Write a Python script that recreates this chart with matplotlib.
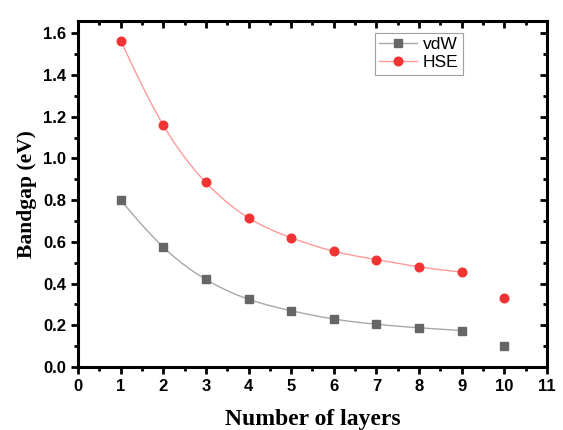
import numpy as np
import matplotlib
matplotlib.use("Agg")
import matplotlib.pyplot as plt
from matplotlib.ticker import MultipleLocator, FormatStrFormatter

layers = [1, 2, 3, 4, 5, 6, 7, 8, 9, 10]
vdw = [0.80, 0.575, 0.42, 0.325, 0.27, 0.23, 0.205, 0.188, 0.175, 0.10]
hse = [1.565, 1.16, 0.885, 0.715, 0.62, 0.555, 0.515, 0.48, 0.455, 0.33]
N_FIT = 9  # smooth line only goes through layers 1..9


def spline(x, y, n=300):
    # natural cubic spline, just for drawing the smooth connecting line
    x = np.asarray(x, float); y = np.asarray(y, float)
    h = np.diff(x)
    A = np.zeros((len(x), len(x))); b = np.zeros(len(x))
    A[0, 0] = A[-1, -1] = 1
    for i in range(1, len(x) - 1):
        A[i, i - 1:i + 2] = [h[i - 1], 2 * (h[i - 1] + h[i]), h[i]]
        b[i] = 6 * ((y[i + 1] - y[i]) / h[i] - (y[i] - y[i - 1]) / h[i - 1])
    m = np.linalg.solve(A, b)
    xs = np.linspace(x[0], x[-1], n)
    k = np.clip(np.searchsorted(x, xs) - 1, 0, len(x) - 2)
    t = xs - x[k]; hk = h[k]
    ys = (m[k] * (x[k + 1] - xs) ** 3 / (6 * hk) + m[k + 1] * t ** 3 / (6 * hk)
          + (y[k] / hk - m[k] * hk / 6) * (x[k + 1] - xs)
          + (y[k + 1] / hk - m[k + 1] * hk / 6) * t)
    return xs, ys


fig = plt.figure(figsize=(5.63, 4.30), dpi=100)
ax = fig.add_axes([0.1385, 0.1465, 0.833, 0.805])

for ys, lc, mc, mk, ms, lab in [(vdw, "#a8a8a8", "#666666", "s", 5.2, "vdW"),
                                 (hse, "#ff9a9a", "#f03434", "o", 6.2, "HSE")]:
    sx, sy = spline(layers[:N_FIT], ys[:N_FIT])
    ax.plot(sx, sy, color=lc, lw=1)
    ax.plot(layers, ys, ls="none", marker=mk, ms=ms, color=mc)
    ax.plot([], [], color=lc, lw=1, marker=mk, ms=ms, mfc=mc, mec=mc, label=lab)

ax.set_xlim(0, 11)
ax.set_ylim(0, 1.66)
ax.xaxis.set_major_locator(MultipleLocator(1))
ax.xaxis.set_minor_locator(MultipleLocator(0.5))
ax.yaxis.set_major_locator(MultipleLocator(0.2))
ax.yaxis.set_minor_locator(MultipleLocator(0.1))
ax.yaxis.set_major_formatter(FormatStrFormatter("%.1f"))
ax.tick_params(which="both", direction="out", width=2, labelsize=12)
ax.tick_params(which="major", length=5)
ax.tick_params(which="minor", length=3)
for lbl in ax.get_xticklabels() + ax.get_yticklabels():
    lbl.set_fontfamily("Liberation Sans"); lbl.set_fontweight("bold")
for s in ax.spines.values():
    s.set_linewidth(2.2)

# mirrored inward ticks on top/right like Origin
top = ax.secondary_xaxis("top")
right = ax.secondary_yaxis("right")
top.xaxis.set_major_locator(MultipleLocator(1)); top.xaxis.set_minor_locator(MultipleLocator(0.5))
right.yaxis.set_major_locator(MultipleLocator(0.2)); right.yaxis.set_minor_locator(MultipleLocator(0.1))
for sec in (top, right):
    sec.tick_params(which="both", direction="in", width=2, labelleft=False, labelright=False,
                    labeltop=False, labelbottom=False)
    sec.tick_params(which="major", length=5)
    sec.tick_params(which="minor", length=3)
    for s in sec.spines.values():
        s.set_linewidth(0)

ax.set_xlabel("Number of layers", fontfamily="Liberation Serif", fontweight="bold",
              fontsize=17, labelpad=11)
ax.set_ylabel("Bandgap (eV)", fontfamily="Liberation Serif", fontweight="bold",
              fontsize=15.5, labelpad=4)

leg = ax.legend(loc="upper left", bbox_to_anchor=(0.633, 0.965), borderaxespad=0,
                frameon=True, fancybox=False,
                edgecolor="#888888", prop={"family": "Liberation Sans", "size": 12.5},
                handlelength=2.2, borderpad=0.25, labelspacing=0.15, handletextpad=0.3)
leg.get_frame().set_linewidth(0.8)

fig.savefig("out.png", dpi=100)
